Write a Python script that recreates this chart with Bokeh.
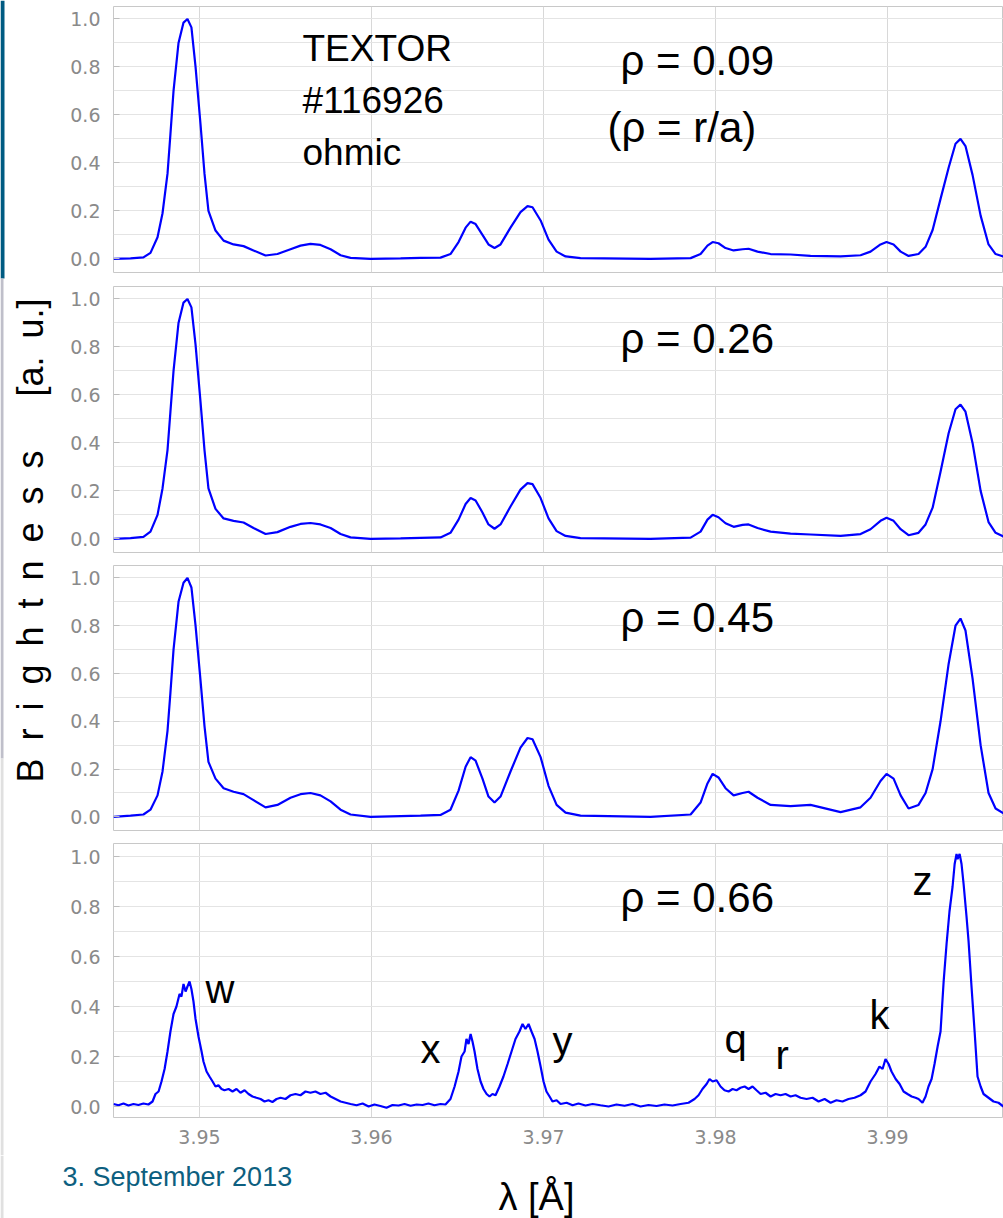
import math
from bokeh.plotting import figure
from bokeh.layouts import row, column
from bokeh.models import Range1d, FixedTicker, NumeralTickFormatter, Label, BoxAnnotation
from bokeh.embed import file_html
from bokeh.resources import INLINE

# ---------------- data ----------------
x_ticks = [3.95, 3.96, 3.97, 3.98, 3.99]
y_ticks = [0.0, 0.2, 0.4, 0.6, 0.8, 1.0]
y_minor = [0.1, 0.3, 0.5, 0.7, 0.9]

# wavelength grid (Angstrom) for the three smooth spectra
wl_smooth = [3.94500, 3.94599, 3.94674, 3.94715, 3.94756, 3.94785, 3.94814, 3.94831, 3.94849, 3.94878,
             3.94907, 3.94930, 3.94953, 3.94977, 3.95006, 3.95029, 3.95052, 3.95093, 3.95140, 3.95198,
             3.95256, 3.95314, 3.95384, 3.95453, 3.95529, 3.95587, 3.95645, 3.95703, 3.95762, 3.95820,
             3.95878, 3.95994, 3.96169, 3.96285, 3.96401, 3.96459, 3.96506, 3.96547, 3.96576, 3.96605,
             3.96645, 3.96680, 3.96715, 3.96750, 3.96808, 3.96866, 3.96907, 3.96936, 3.96983, 3.97029,
             3.97076, 3.97128, 3.97215, 3.97622, 3.97855, 3.97913, 3.97953, 3.97983, 3.98017, 3.98058,
             3.98105, 3.98157, 3.98192, 3.98244, 3.98320, 3.98436, 3.98552, 3.98727, 3.98843, 3.98901,
             3.98959, 3.98994, 3.99035, 3.99076, 3.99122, 3.99180, 3.99221, 3.99262, 3.99308, 3.99355,
             3.99395, 3.99424, 3.99453, 3.99494, 3.99541, 3.99587, 3.99628, 3.99674]

rho_009 = [0.000, 0.002, 0.006, 0.025, 0.09, 0.19, 0.355, 0.52, 0.70, 0.90,
           0.985, 1.00, 0.965, 0.80, 0.56, 0.355, 0.20, 0.118, 0.076, 0.06,
           0.053, 0.035, 0.014, 0.02, 0.04, 0.055, 0.062, 0.058, 0.04, 0.015,
           0.004, 0.0, 0.002, 0.004, 0.005, 0.02, 0.07, 0.13, 0.155, 0.145,
           0.10, 0.06, 0.045, 0.06, 0.13, 0.195, 0.22, 0.215, 0.16, 0.08,
           0.03, 0.01, 0.003, 0.0, 0.003, 0.02, 0.055, 0.07, 0.065, 0.045,
           0.035, 0.04, 0.042, 0.03, 0.02, 0.018, 0.012, 0.01, 0.015, 0.03,
           0.06, 0.07, 0.06, 0.03, 0.012, 0.02, 0.05, 0.12, 0.25, 0.38,
           0.48, 0.50, 0.47, 0.35, 0.18, 0.06, 0.02, 0.01]

rho_026 = [0.000, 0.003, 0.008, 0.03, 0.10, 0.21, 0.37, 0.53, 0.70, 0.90,
           0.985, 1.00, 0.965, 0.81, 0.57, 0.37, 0.21, 0.125, 0.085, 0.075,
           0.068, 0.045, 0.02, 0.028, 0.05, 0.062, 0.066, 0.06, 0.045, 0.02,
           0.006, 0.0, 0.002, 0.004, 0.006, 0.025, 0.08, 0.145, 0.17, 0.16,
           0.11, 0.06, 0.042, 0.06, 0.135, 0.205, 0.232, 0.228, 0.17, 0.085,
           0.032, 0.012, 0.003, 0.0, 0.005, 0.03, 0.08, 0.10, 0.09, 0.065,
           0.05, 0.058, 0.06, 0.045, 0.03, 0.022, 0.018, 0.012, 0.02, 0.04,
           0.075, 0.088, 0.075, 0.04, 0.015, 0.025, 0.06, 0.13, 0.28, 0.44,
           0.54, 0.56, 0.53, 0.40, 0.20, 0.07, 0.025, 0.01]

rho_045 = [0.000, 0.005, 0.01, 0.03, 0.09, 0.19, 0.36, 0.52, 0.70, 0.90,
           0.98, 1.00, 0.96, 0.80, 0.57, 0.38, 0.23, 0.16, 0.12, 0.105,
           0.095, 0.07, 0.04, 0.05, 0.08, 0.095, 0.10, 0.09, 0.065, 0.03,
           0.01, 0.0, 0.003, 0.005, 0.008, 0.03, 0.11, 0.21, 0.25, 0.235,
           0.16, 0.085, 0.06, 0.085, 0.19, 0.29, 0.33, 0.325, 0.25, 0.13,
           0.05, 0.018, 0.005, 0.0, 0.01, 0.06, 0.14, 0.18, 0.165, 0.12,
           0.09, 0.10, 0.105, 0.08, 0.05, 0.045, 0.05, 0.02, 0.04, 0.08,
           0.15, 0.18, 0.16, 0.09, 0.035, 0.05, 0.10, 0.20, 0.40, 0.64,
           0.80, 0.83, 0.78, 0.58, 0.30, 0.10, 0.035, 0.015]

# noisy outer spectrum (rho = 0.66)
wl_noisy = [3.94500, 3.94529, 3.94558, 3.94587, 3.94616, 3.94645, 3.94674, 3.94703, 3.94727, 3.94744,
            3.94762, 3.94779, 3.94797, 3.94814, 3.94831, 3.94849, 3.94866, 3.94884, 3.94895, 3.94907,
            3.94919, 3.94930, 3.94942, 3.94953, 3.94965, 3.94977, 3.94994, 3.95012, 3.95023, 3.95041,
            3.95058, 3.95076, 3.95093, 3.95110, 3.95128, 3.95145, 3.95169, 3.95192, 3.95215, 3.95238,
            3.95262, 3.95285, 3.95308, 3.95331, 3.95355, 3.95378, 3.95401, 3.95424, 3.95448, 3.95471,
            3.95500, 3.95529, 3.95558, 3.95587, 3.95616, 3.95645, 3.95674, 3.95703, 3.95733, 3.95762,
            3.95791, 3.95820, 3.95849, 3.95878, 3.95913, 3.95948, 3.95983, 3.96017, 3.96052, 3.96087,
            3.96122, 3.96157, 3.96192, 3.96227, 3.96262, 3.96297, 3.96331, 3.96366, 3.96401, 3.96430,
            3.96459, 3.96483, 3.96506, 3.96523, 3.96541, 3.96552, 3.96564, 3.96576, 3.96587, 3.96599,
            3.96616, 3.96634, 3.96651, 3.96669, 3.96686, 3.96703, 3.96721, 3.96744, 3.96767, 3.96791,
            3.96814, 3.96837, 3.96860, 3.96878, 3.96895, 3.96913, 3.96930, 3.96948, 3.96965, 3.96983,
            3.97000, 3.97017, 3.97035, 3.97052, 3.97076, 3.97099, 3.97134, 3.97169, 3.97203, 3.97244,
            3.97285, 3.97331, 3.97378, 3.97424, 3.97471, 3.97517, 3.97564, 3.97610, 3.97657, 3.97703,
            3.97750, 3.97797, 3.97843, 3.97878, 3.97901, 3.97924, 3.97948, 3.97965, 3.97983, 3.98006,
            3.98029, 3.98052, 3.98076, 3.98099, 3.98122, 3.98145, 3.98169, 3.98192, 3.98215, 3.98238,
            3.98262, 3.98291, 3.98320, 3.98349, 3.98378, 3.98407, 3.98436, 3.98465, 3.98494, 3.98529,
            3.98564, 3.98599, 3.98634, 3.98669, 3.98703, 3.98738, 3.98773, 3.98808, 3.98843, 3.98872,
            3.98901, 3.98930, 3.98953, 3.98971, 3.98988, 3.99006, 3.99023, 3.99047, 3.99070, 3.99093,
            3.99116, 3.99140, 3.99163, 3.99180, 3.99203, 3.99221, 3.99238, 3.99256, 3.99273, 3.99291,
            3.99308, 3.99326, 3.99343, 3.99360, 3.99378, 3.99390, 3.99401, 3.99407, 3.99419, 3.99430,
            3.99442, 3.99459, 3.99471, 3.99488, 3.99506, 3.99523, 3.99541, 3.99558, 3.99587, 3.99616,
            3.99645, 3.99674]

rho_066 = [0.010, 0.005, 0.012, 0.004, 0.010, 0.006, 0.012, 0.008, 0.020, 0.050,
           0.060, 0.100, 0.150, 0.220, 0.300, 0.370, 0.400, 0.450, 0.440, 0.490,
           0.460, 0.480, 0.500, 0.470, 0.420, 0.350, 0.280, 0.220, 0.180, 0.140,
           0.120, 0.100, 0.080, 0.085, 0.070, 0.065, 0.070, 0.060, 0.070, 0.055,
           0.065, 0.050, 0.040, 0.035, 0.030, 0.020, 0.025, 0.018, 0.030, 0.035,
           0.030, 0.045, 0.050, 0.045, 0.060, 0.055, 0.060, 0.050, 0.055, 0.040,
           0.030, 0.020, 0.015, 0.010, 0.005, 0.012, 0.000, 0.008, 0.002, -0.005,
           0.006, 0.004, 0.010, 0.003, 0.008, 0.006, 0.012, 0.005, 0.010, 0.008,
           0.030, 0.080, 0.140, 0.200, 0.220, 0.270, 0.250, 0.290, 0.260, 0.220,
           0.150, 0.100, 0.070, 0.050, 0.040, 0.050, 0.045, 0.080, 0.120, 0.170,
           0.220, 0.270, 0.300, 0.330, 0.310, 0.330, 0.300, 0.270, 0.220, 0.160,
           0.100, 0.060, 0.040, 0.020, 0.025, 0.010, 0.015, 0.005, 0.012, 0.004,
           0.010, 0.005, 0.000, 0.008, 0.003, 0.010, 0.000, 0.006, 0.002, 0.008,
           0.004, 0.010, 0.015, 0.030, 0.045, 0.070, 0.090, 0.110, 0.100, 0.105,
           0.080, 0.065, 0.060, 0.070, 0.065, 0.075, 0.080, 0.070, 0.080, 0.065,
           0.050, 0.055, 0.040, 0.050, 0.045, 0.050, 0.040, 0.045, 0.035, 0.030,
           0.035, 0.020, 0.030, 0.015, 0.025, 0.020, 0.030, 0.035, 0.045, 0.060,
           0.100, 0.130, 0.160, 0.150, 0.190, 0.170, 0.140, 0.110, 0.090, 0.060,
           0.050, 0.040, 0.035, 0.030, 0.015, 0.040, 0.080, 0.110, 0.170, 0.240,
           0.300, 0.500, 0.650, 0.780, 0.880, 0.970, 1.010, 0.990, 1.010, 0.970,
           0.890, 0.760, 0.660, 0.480, 0.300, 0.120, 0.080, 0.050, 0.035, 0.020,
           0.015, 0.000]

spectra = [
    (wl_smooth, rho_009, "ρ = 0.09"),
    (wl_smooth, rho_026, "ρ = 0.26"),
    (wl_smooth, rho_045, "ρ = 0.45"),
    (wl_noisy, rho_066, "ρ = 0.66"),
]
line_ids = ["w", "x", "y", "q", "r", "k", "z"]

# ---------------- styling ----------------
TXT_FONT = "Liberation Sans"
TICK_FONT = "DejaVu Sans"
GRID = "#e4e4e4"
VGRID = "#d8d8d8"
FRAME = "#c8c8c8"
BLUE = "#0000ff"

X_START, X_END = 3.945, 3.99674
PANEL_W = 943
heights = [279, 279, 278, 319]
top_b = [6, 7, 7, 7]
bot_b = [7, 6, 6, 38]
y_lo = [-0.057, -0.057, -0.057, -0.044]
y_hi = [1.052, 1.052, 1.052, 1.052]

panels = []
for i, (wl, vals, rho_txt) in enumerate(spectra):
    last = (i == 3)
    p = figure(width=PANEL_W, height=heights[i], output_backend="svg", toolbar_location=None,
               x_range=Range1d(X_START, X_END), y_range=Range1d(y_lo[i], y_hi[i]),
               x_axis_location="below" if last else None,
               min_border_left=53, min_border_right=0,
               min_border_top=top_b[i], min_border_bottom=bot_b[i])
    p.background_fill_color = "white"
    p.border_fill_color = "white"
    p.outline_line_color = FRAME
    p.outline_line_width = 1

    xt = FixedTicker(ticks=x_ticks)
    yt = FixedTicker(ticks=y_ticks, minor_ticks=y_minor)
    p.xgrid.ticker = xt
    p.ygrid.ticker = yt
    p.xgrid.grid_line_color = VGRID
    p.ygrid.grid_line_color = GRID
    p.ygrid.minor_grid_line_color = GRID

    ya = p.yaxis[0]
    ya.ticker = yt
    ya.formatter = NumeralTickFormatter(format="0.0")
    ya.axis_line_color = None
    ya.major_tick_in = 6
    ya.major_tick_out = 0
    ya.major_tick_line_color = "#bdbdbd"
    ya.minor_tick_in = 0
    ya.minor_tick_out = 0
    ya.major_label_standoff = 13
    ya.major_label_text_font = TICK_FONT
    ya.major_label_text_font_size = "19px"
    ya.major_label_text_color = "#8a8a8a"

    if last:
        xa = p.xaxis[0]
        xa.ticker = xt
        xa.formatter = NumeralTickFormatter(format="0.00")
        xa.axis_line_color = None
        xa.major_tick_in = 0
        xa.major_tick_out = 0
        xa.minor_tick_in = 0
        xa.minor_tick_out = 0
        xa.major_label_standoff = 12
        xa.major_label_text_font = TICK_FONT
        xa.major_label_text_font_size = "19px"
        xa.major_label_text_color = "#8a8a8a"

    p.line(wl, vals, line_color=BLUE, line_width=2.2)
    panels.append(p)


def add_text(p, x, y, text, size="40px", color="black", align="left"):
    # x, y: screen offsets from the frame's lower-left corner; y is the text's middle
    p.add_layout(Label(x=x, y=y, x_units="screen", y_units="screen", text=text,
                       text_font=TXT_FONT, text_font_size=size, text_color=color,
                       text_baseline="middle", text_align=align))


def blank(width, height):
    f = figure(width=width, height=height, output_backend="svg", toolbar_location=None,
               x_range=Range1d(0, 1), y_range=Range1d(0, 1),
               x_axis_location=None, y_axis_location=None, min_border=0)
    f.grid.visible = False
    f.outline_line_color = None
    f.background_fill_color = "white"
    f.border_fill_color = "white"
    return f


def strip(f, top, bottom, right, col):
    f.add_layout(BoxAnnotation(left=0, right=right, top=top, bottom=bottom,
                               left_units="screen", right_units="screen",
                               top_units="screen", bottom_units="screen",
                               fill_color=col, fill_alpha=1.0, line_color=None))


p1, p2, p3, p4 = panels
# panel 1 annotations
add_text(p1, 189, 224, "TEXTOR", size="37px")
add_text(p1, 189, 172, "#116926", size="37px")
add_text(p1, 189, 120, "ohmic", size="37px")
add_text(p1, 507, 212, spectra[0][2], size="42px")
add_text(p1, 494, 145, "(ρ = r/a)", size="42px")
add_text(p2, 507, 214, spectra[1][2], size="42px")
add_text(p3, 507, 213, spectra[2][2], size="42px")
add_text(p4, 507, 220, spectra[3][2], size="42px")
# line identifications
for lab, x, y in zip(line_ids, [92, 307, 439, 611, 662, 756, 799], [129, 69, 77, 79, 63, 103, 237]):
    add_text(p4, x, y, lab)

# ---------------- left strip with the y label ----------------
left = blank(60, 1155)
strip(left, 1155, 877, 4, "#005b82")
strip(left, 877, 397, 3, "#bfbfca")
strip(left, 397, 0, 3, "#e0e0e0")
sp = "\u2002"
ylab = sp.join("Brightness") + sp * 3 + "[a." + sp + "u.]"
left.add_layout(Label(x=30, y=615, x_units="screen", y_units="screen", text=ylab,
                      angle=math.pi / 2, text_font=TXT_FONT, text_font_size="36px",
                      text_color="black", text_align="center", text_baseline="middle"))

# ---------------- footer strip (date and x-axis title) ----------------
footer = blank(1003, 63)
strip(footer, 63, 0, 3, "#e0e0e0")
add_text(footer, 62, 42, "3. September 2013", size="27px", color="#0d5f80")
add_text(footer, 536, 22, "λ [Å]", size="38px", align="center")

layout = column(row(left, column(*panels, spacing=0), spacing=0), footer, spacing=0)
open("out.html", "w").write(file_html(layout, INLINE))
